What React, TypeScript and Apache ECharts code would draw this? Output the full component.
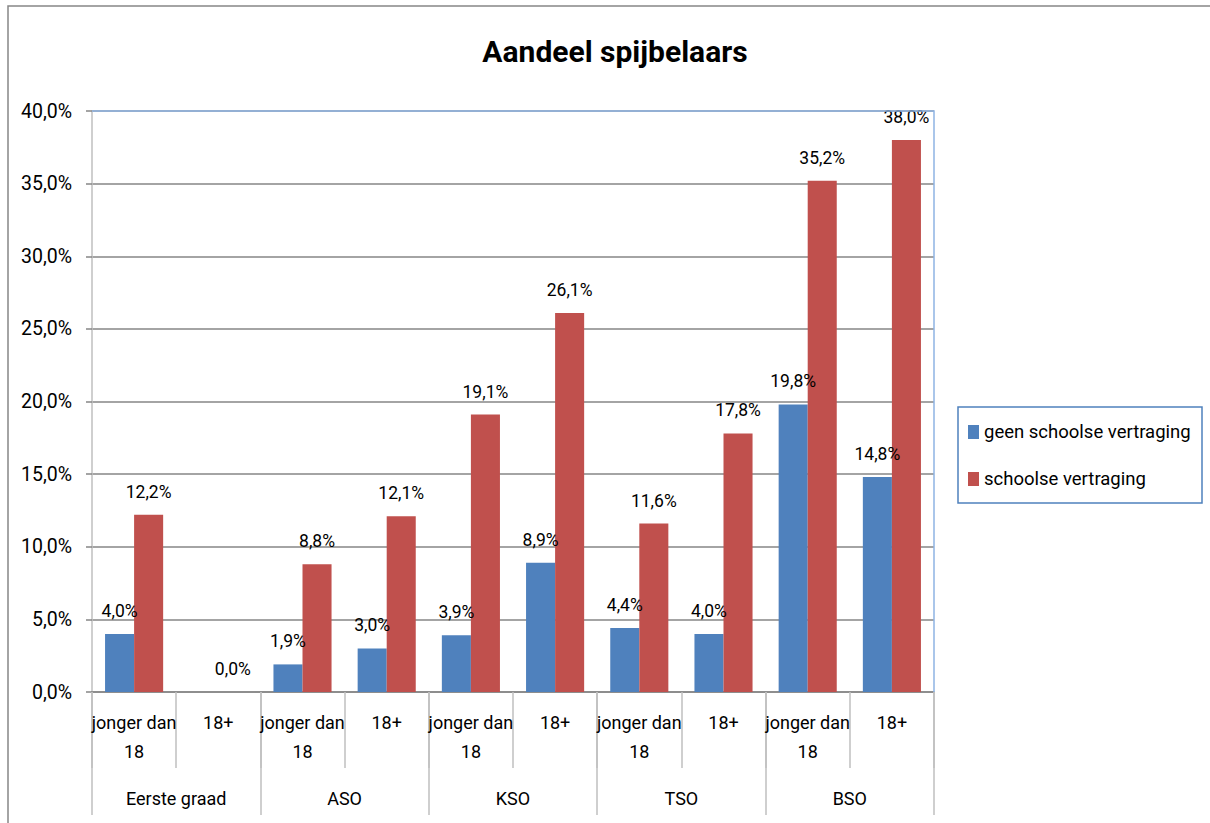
import React, { useEffect, useRef } from "react";
import * as echarts from "echarts";

const categories = [
  "jonger dan\n18", "18+",
  "jonger dan\n18", "18+",
  "jonger dan\n18", "18+",
  "jonger dan\n18", "18+",
  "jonger dan\n18", "18+",
];
const groups = ["Eerste graad", "ASO", "KSO", "TSO", "BSO"];
const seriesNames = ["geen schoolse vertraging", "schoolse vertraging"];
const geenVertraging: (number | null)[] = [4.0, null, 1.9, 3.0, 3.9, 8.9, 4.4, 4.0, 19.8, 14.8];
const metVertraging: number[] = [12.2, 0.0, 8.8, 12.1, 19.1, 26.1, 11.6, 17.8, 35.2, 38.0];
const yTicks = { min: 0, max: 40, interval: 5 };

const FONT = "Roboto, 'Noto Sans', sans-serif";
const fmt = (v: number) => v.toFixed(1).replace(".", ",") + "%";

export default function App() {
  const ref = useRef<HTMLDivElement>(null);
  useEffect(() => {
    if (!ref.current) return;
    const chart = echarts.init(ref.current, null, { renderer: "svg" });
    const label = {
      show: true,
      position: "top" as const,
      distance: 14,
      fontFamily: FONT,
      fontSize: 17.5,
      color: "#000",
      formatter: (p: any) => fmt(p.value),
    };
    chart.setOption({
      animation: false,
      backgroundColor: "#fff",
      textStyle: { fontFamily: FONT },
      title: {
        text: "Aandeel spijbelaars",
        left: 610,
        textAlign: "center",
        top: 31,
        textStyle: { fontFamily: FONT, fontSize: 30, fontWeight: "bold", color: "#000" },
      },
      grid: { left: 92, top: 111, right: 276, bottom: 131, containLabel: false },
      legend: {
        orient: "vertical",
        left: 968,
        top: 420,
        itemWidth: 11,
        itemHeight: 14,
        itemGap: 23,
        icon: "rect",
        padding: 0,
        data: seriesNames,
        textStyle: { fontFamily: FONT, fontSize: 18.5, color: "#000", lineHeight: 24 },
      },
      xAxis: [
        {
          type: "category",
          data: categories,
          position: "bottom",
          axisLine: { show: true, lineStyle: { color: "#868686", width: 1.5 } },
          axisTick: { show: true, interval: 0, length: 76, lineStyle: { color: "#bfbfbf", width: 1.5 } },
          axisLabel: {
            interval: 0,
            margin: 16,
            fontFamily: FONT,
            fontSize: 18,
            lineHeight: 29,
            color: "#000",
          },
          splitLine: { show: false },
        },
        {
          type: "category",
          data: groups,
          position: "bottom",
          axisLine: { show: false },
          axisTick: { show: true, interval: 0, length: 123, lineStyle: { color: "#bfbfbf", width: 1.5 } },
          axisLabel: {
            interval: 0,
            margin: 92,
            fontFamily: FONT,
            fontSize: 18,
            lineHeight: 29,
            color: "#000",
          },
          splitLine: { show: false },
        },
      ],
      yAxis: {
        type: "value",
        min: yTicks.min,
        max: yTicks.max,
        interval: yTicks.interval,
        axisLine: { show: true, lineStyle: { color: "#bfbfbf", width: 1.5 } },
        axisTick: { show: true, length: 6, lineStyle: { color: "#868686", width: 1.5 } },
        axisLabel: {
          margin: 20,
          fontFamily: FONT,
          fontSize: 19.5,
          color: "#000",
          formatter: (v: number) => fmt(v),
        },
        splitLine: { show: true, lineStyle: { color: "#868686", width: 1.5 } },
      },
      series: [
        {
          name: seriesNames[0],
          type: "bar",
          data: geenVertraging,
          itemStyle: { color: "#4f81bd" },
          barGap: "0%",
          barCategoryGap: "31%",
          label,
        },
        {
          name: seriesNames[1],
          type: "bar",
          data: metVertraging,
          itemStyle: { color: "#c0504d" },
          barGap: "0%",
          barCategoryGap: "31%",
          label,
        },
      ],
      graphic: [
        {
          type: "rect",
          shape: { x: 8, y: 6, width: 1400, height: 1000 },
          style: { fill: "none", stroke: "#868686", lineWidth: 1.5 },
          z: 100,
          silent: true,
        },
        {
          type: "polyline",
          shape: { points: [[92, 111], [934, 111], [934, 692]] },
          style: { fill: "none", stroke: "#8eb4e3", lineWidth: 1.5 },
          z: 100,
          silent: true,
        },
        {
          type: "rect",
          shape: { x: 958, y: 407, width: 244, height: 96 },
          style: { fill: "none", stroke: "#4f81bd", lineWidth: 1.5 },
          z: 100,
          silent: true,
        },
      ],
    });
    return () => chart.dispose();
  }, []);
  return (
    <div
      ref={ref}
      style={{ position: "fixed", left: 0, top: 0, width: 1210, height: 823 }}
    />
  );
}
